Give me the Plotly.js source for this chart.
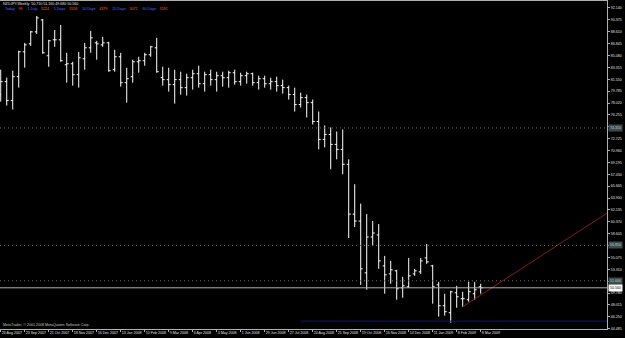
<!DOCTYPE html>
<html><head><meta charset="utf-8">
<script src="https://cdn.plot.ly/plotly-3.0.1.min.js"></script>
<style>html,body{margin:0;padding:0;background:#000;overflow:hidden}#chart{width:625px;height:338px}</style>
</head><body><div id="chart"></div>
<script>
const symbol = "NZDJPY,Weekly";
// weekly OHLC, first bar = week of 26 Aug 2007
const opens  = [79.27,81.19,78.38,81.93,85.63,86.81,88.59,90.36,85.04,87.41,87.41,83.70,83.85,82.23,84.59,86.22,86.96,86.66,86.96,82.97,84.89,81.04,81.93,84.15,84.30,85.19,86.22,81.78,81.49,80.75,81.49,80.30,81.78,82.37,80.89,82.23,81.49,82.08,81.78,82.52,81.19,82.08,82.37,81.04,81.63,80.89,81.19,80.60,80.30,79.27,77.79,78.82,78.08,75.27,72.61,73.35,71.87,71.13,68.91,61.51,60.48,52.78,58.11,58.41,53.82,52.63,53.08,50.56,50.71,52.63,52.93,55.00,53.82,51.01,47.90,46.86,49.82,48.94,48.79,49.67,50.71];
const highs  = [82.97,81.79,82.82,85.78,86.96,88.74,90.96,90.51,87.41,88.88,89.62,85.48,84.15,85.63,86.96,88.74,87.26,87.85,87.11,85.93,85.48,83.26,84.45,84.89,85.48,86.52,87.70,83.41,83.26,82.97,82.67,82.37,82.97,83.56,82.67,82.97,82.67,82.67,82.82,82.97,82.52,82.67,82.52,82.08,82.08,81.78,81.93,81.49,80.60,80.30,79.56,79.27,78.53,76.75,74.68,74.39,73.79,74.09,69.65,65.95,63.07,61.51,60.48,60.03,55.30,54.56,53.23,52.19,55.00,53.38,55.00,57.07,53.97,51.45,49.68,50.12,50.86,49.97,51.45,51.45,51.16];
const lows   = [78.23,77.64,77.05,80.31,83.27,86.52,88.29,85.34,83.41,86.37,84.15,81.04,80.60,80.31,82.97,85.48,84.45,86.37,82.67,82.67,80.45,78.08,81.04,82.52,83.56,84.89,82.52,80.60,79.71,77.93,79.27,79.12,80.01,80.30,79.71,80.60,79.71,80.45,80.30,80.75,80.60,80.89,80.60,80.01,80.30,80.01,79.71,79.42,78.53,76.75,77.34,75.87,74.83,71.13,71.43,68.17,69.65,67.43,57.96,59.59,50.99,50.27,56.78,53.38,49.68,51.16,48.79,49.08,50.56,52.34,52.63,54.12,48.20,46.28,46.42,45.38,47.60,47.75,48.49,48.79,49.68];
const closes = [81.19,78.38,81.93,85.63,86.66,88.59,90.66,85.48,87.26,87.41,84.30,83.85,82.23,84.74,86.22,87.70,86.81,86.96,82.82,84.89,81.04,81.63,84.15,84.30,85.19,86.37,82.67,81.49,80.75,81.49,80.30,81.78,82.37,80.89,82.23,81.49,82.08,81.78,82.52,81.19,82.08,82.37,81.04,81.63,80.89,81.19,80.60,80.30,79.27,77.79,78.82,78.08,75.27,72.61,73.35,71.87,71.13,68.91,61.51,60.48,53.38,58.11,58.70,54.56,52.49,53.23,50.42,50.86,52.34,53.08,54.56,54.41,50.71,47.90,47.01,49.97,49.23,48.94,49.97,50.27,50.56];

const xTickBars   = [0,4,8,12,16,20,24,28,32,36,40,44,48,52,56,60,64,68,72,76,80];
const xTickLabels = ["26 Aug 2007","23 Sep 2007","21 Oct 2007","18 Nov 2007","16 Dec 2007","13 Jan 2008","10 Feb 2008","9 Mar 2008","6 Apr 2008","4 May 2008","1 Jun 2008","29 Jun 2008","27 Jul 2008","24 Aug 2008","21 Sep 2008","19 Oct 2008","16 Nov 2008","14 Dec 2008","11 Jan 2009","8 Feb 2009","8 Mar 2009"];
const yTickLabels = ["92.140","90.375","88.610","86.845","85.080","83.315","81.550","79.785","78.020","76.255","74.490","72.725","70.960","69.195","67.430","65.665","63.900","62.135","60.370","58.605","56.840","55.075","53.310","51.545","49.780","48.015","46.250","44.485"];

const hLevels = [74.31, 56.85, 51.60];     // dotted horizontal lines
const blueLevel = 45.61; const blueFromBar = 50;
const trendBars = [77, 110];
const trendPrices = [47.75, 66.83];

const rangeNames  = ["Today:","1 Day:","5 Days:","10 Days:","20 Days:","60 Days:"];
const rangeValues = ["99","5224","5558","4379","5072","5591"];

const copyright = "MetaTrader, \u00a9 2001-2008 MetaQuotes Software Corp.";

const bars = opens.map((_, i) => i);
const lastI = closes.length - 1;
const bid = closes[lastI];
const FONT = "Liberation Sans, Arial, sans-serif";
const FS = 3.6;

const traces = [
  {type:'ohlc', x:bars, open:opens, high:highs, low:lows, close:closes,
   increasing:{line:{color:'#ffffff', width:1}}, decreasing:{line:{color:'#ffffff', width:1}},
   tickwidth:0.33, hoverinfo:'skip'},
  {type:'scatter', mode:'lines', x:trendBars, y:trendPrices, line:{color:'#8b1a1a', width:1}, hoverinfo:'skip'}
];

const shapes = [];
hLevels.forEach(v => shapes.push({type:'line', xref:'paper', x0:0, x1:1, yref:'y', y0:v, y1:v,
  line:{color:'#6e6e6e', width:1, dash:'1px,3px'}}));
shapes.push({type:'line', xref:'paper', x0:0, x1:1, yref:'y', y0:bid, y1:bid, line:{color:'#b0b0b0', width:1}});
shapes.push({type:'line', xref:'x', x0:blueFromBar, x1:200, yref:'y', y0:blueLevel, y1:blueLevel, line:{color:'#15155e', width:1}});

const annotations = [];
hLevels.forEach(v => annotations.push({xref:'paper', x:1, xanchor:'left', xshift:1, yref:'y', y:v, yanchor:'middle',
  text:v.toFixed(3), showarrow:false, bgcolor:'#3a4c4c', font:{family:FONT, size:FS, color:'#c8c8c8'}, borderpad:1}));
annotations.push({xref:'paper', x:1, xanchor:'left', xshift:1, yref:'y', y:bid, yanchor:'middle',
  text:bid.toFixed(3), showarrow:false, bgcolor:'#ffffff', font:{family:FONT, size:FS, color:'#000000'}, borderpad:1});
annotations.push({xref:'paper', x:0, xanchor:'left', xshift:1, yref:'paper', y:1, yanchor:'top', yshift:1,
  text: symbol + '  ' + [opens[lastI],highs[lastI],lows[lastI],closes[lastI]].map(v=>v.toFixed(3)).join(' '),
  showarrow:false, font:{family:FONT, size:FS, color:'#e0e0e0'}});
annotations.push({xref:'paper', x:0, xanchor:'left', xshift:3, yref:'paper', y:1, yanchor:'top', yshift:-4,
  text: rangeNames.map((n,i)=>'<span style="color:#4a6cff">'+n+'</span>   <span style="color:#ff5a3c">'+rangeValues[i]+'</span>').join('     '),
  showarrow:false, font:{family:FONT, size:FS, color:'#4a6cff'}});
annotations.push({xref:'paper', x:0, xanchor:'left', xshift:1, yref:'paper', y:0, yanchor:'bottom', yshift:0,
  text:copyright, showarrow:false, font:{family:FONT, size:FS, color:'#c0c0c0'}});

const layout = {
  width:625, height:338, paper_bgcolor:'#000', plot_bgcolor:'#000',
  margin:{l:0, r:18, t:1, b:9}, showlegend:false, hovermode:false,
  xaxis:{type:'linear', range:[-0.12, 101.05], showgrid:false, zeroline:false, rangeslider:{visible:false},
    showline:true, linecolor:'#b0b0b0', linewidth:1, mirror:true, tickangle:0,
    tickmode:'array', tickvals:xTickBars, ticktext:xTickLabels, ticks:'outside', ticklen:2, tickcolor:'#b0b0b0',
    ticklabelposition:'outside right', tickfont:{family:FONT, size:FS, color:'#e0e0e0'}},
  yaxis:{side:'right', range:[44.44, 93.176], showgrid:false, zeroline:false,
    showline:true, linecolor:'#b0b0b0', linewidth:1,
    tickmode:'array', tickvals:yTickLabels.map(parseFloat), ticktext:yTickLabels, ticks:'outside', ticklen:2, tickcolor:'#b0b0b0',
    tickfont:{family:FONT, size:FS, color:'#e0e0e0'}},
  shapes:shapes, annotations:annotations
};
Plotly.newPlot('chart', traces, layout, {displayModeBar:false, staticPlot:true});
</script></body></html>
